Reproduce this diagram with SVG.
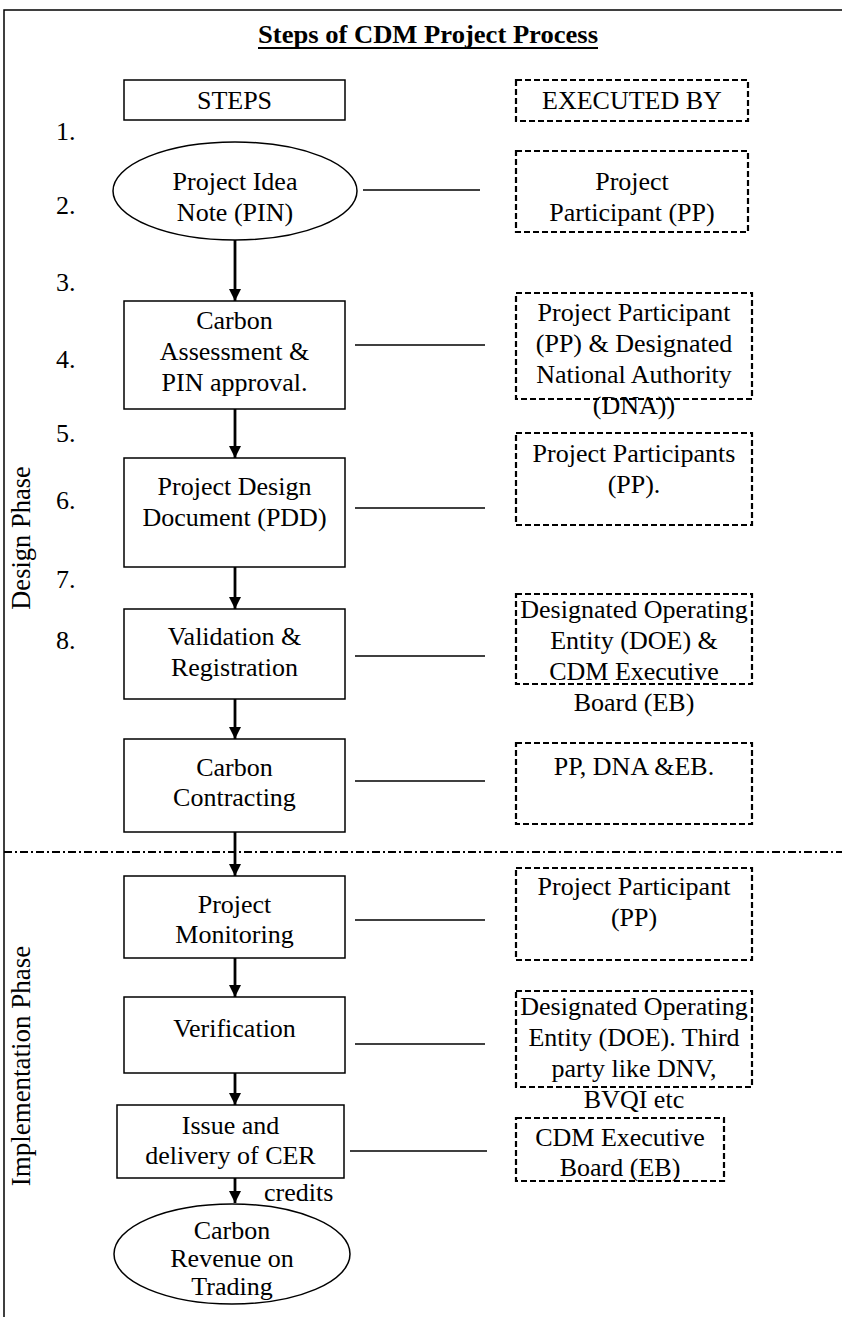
<svg xmlns="http://www.w3.org/2000/svg" width="842" height="1317" viewBox="0 0 842 1317">
<defs>
<style>
text{font-family:'Liberation Serif',serif;font-size:26px;fill:#000}
.t{text-anchor:middle}
.box{fill:#fff;stroke:#000;stroke-width:1.5}
.dbox{fill:none;stroke:#000;stroke-width:2.2;stroke-dasharray:6,3}
.ln{stroke:#000;stroke-width:1.5;fill:none}
.ar{stroke:#000;stroke-width:2.8;fill:none;marker-end:url(#ah)}
</style>
<marker id="ah" viewBox="0 0 12 12" refX="12" refY="6" markerWidth="12" markerHeight="12" markerUnits="userSpaceOnUse" orient="auto">
<path d="M0,0 L12,6 L0,12 z" fill="#000"/>
</marker>
</defs>
<rect width="842" height="1317" fill="#fff"/>
<g id="frame">
<path class="ln" d="M4,1317 V10 H842"/>
<path d="M4,852 H842" stroke="#000" stroke-width="2" stroke-dasharray="8,3,2,3" fill="none"/>
</g>
<g id="title">
<text x="428" y="43" class="t" font-weight="bold" textLength="340" lengthAdjust="spacingAndGlyphs">Steps of CDM Project Process</text>
<line x1="258" y1="48" x2="598" y2="48" stroke="#000" stroke-width="2"/>
</g>
<g id="phases">
<text class="t" style="font-size:26.5px" transform="translate(30,538) rotate(-90)">Design Phase</text>
<text class="t" style="font-size:27px" transform="translate(30,1066) rotate(-90)">Implementation Phase</text>
</g>
<g id="numbers">
<text x="56" y="140">1.</text>
<text x="56" y="214">2.</text>
<text x="56" y="291">3.</text>
<text x="56" y="368">4.</text>
<text x="56" y="442">5.</text>
<text x="56" y="509">6.</text>
<text x="56" y="588">7.</text>
<text x="56" y="649">8.</text>
</g>
<g id="connectors">
<line class="ln" x1="363" y1="190" x2="480" y2="190"/>
<line class="ln" x1="355" y1="345" x2="485" y2="345"/>
<line class="ln" x1="355" y1="508" x2="485" y2="508"/>
<line class="ln" x1="355" y1="656" x2="485" y2="656"/>
<line class="ln" x1="355" y1="781" x2="485" y2="781"/>
<line class="ln" x1="355" y1="920" x2="485" y2="920"/>
<line class="ln" x1="355" y1="1044" x2="485" y2="1044"/>
<line class="ln" x1="350" y1="1151" x2="487" y2="1151"/>
<line class="ar" x1="235" y1="240" x2="235" y2="301"/>
<line class="ar" x1="235" y1="409" x2="235" y2="458"/>
<line class="ar" x1="235" y1="567" x2="235" y2="609"/>
<line class="ar" x1="235" y1="699" x2="235" y2="739"/>
<line class="ar" x1="235" y1="832" x2="235" y2="876"/>
<line class="ar" x1="235" y1="958" x2="235" y2="997"/>
<line class="ar" x1="235" y1="1073" x2="235" y2="1105"/>
<line class="ar" x1="235" y1="1178" x2="235" y2="1203"/>
<text x="264" y="1201">credits</text>
</g>
<g id="steps-header">
<rect class="box" x="124" y="80" width="221" height="40"/>
<text class="t" x="234.5" y="109">STEPS</text>
</g>
<g id="executed-header">
<rect class="dbox" x="516" y="80" width="232" height="41"/>
<text class="t" x="632" y="109">EXECUTED BY</text>
</g>
<g id="step-pin">
<ellipse class="box" cx="235" cy="191" rx="122" ry="49"/>
<text class="t" x="235" y="190">Project Idea</text>
<text class="t" x="235" y="221">Note (PIN)</text>
</g>
<g id="by-pin">
<rect class="dbox" x="516" y="151" width="232" height="81"/>
<text class="t" x="632" y="190">Project</text>
<text class="t" x="632" y="221">Participant (PP)</text>
</g>
<g id="step-assessment">
<rect class="box" x="124" y="301" width="221" height="108"/>
<text class="t" x="234.5" y="329">Carbon</text>
<text class="t" x="234.5" y="360">Assessment &amp;</text>
<text class="t" x="234.5" y="391">PIN approval.</text>
</g>
<g id="by-assessment">
<rect class="dbox" x="516" y="293" width="236" height="106"/>
<text class="t" x="634" y="321">Project Participant</text>
<text class="t" x="634" y="352">(PP) &amp; Designated</text>
<text class="t" x="634" y="383">National Authority</text>
<text class="t" x="634" y="414">(DNA))</text>
</g>
<g id="step-pdd">
<rect class="box" x="124" y="458" width="221" height="109"/>
<text class="t" x="234.5" y="495">Project Design</text>
<text class="t" x="234.5" y="526">Document (PDD)</text>
</g>
<g id="by-pdd">
<rect class="dbox" x="516" y="433" width="236" height="92"/>
<text class="t" x="634" y="462">Project Participants</text>
<text class="t" x="634" y="493">(PP).</text>
</g>
<g id="step-validation">
<rect class="box" x="124" y="609" width="221" height="90"/>
<text class="t" x="234.5" y="645">Validation &amp;</text>
<text class="t" x="234.5" y="676">Registration</text>
</g>
<g id="by-validation">
<rect class="dbox" x="516" y="594" width="236" height="90"/>
<text class="t" x="634" y="618">Designated Operating</text>
<text class="t" x="634" y="649">Entity (DOE) &amp;</text>
<text class="t" x="634" y="680">CDM Executive</text>
<text class="t" x="634" y="711">Board (EB)</text>
</g>
<g id="step-contracting">
<rect class="box" x="124" y="739" width="221" height="93"/>
<text class="t" x="234.5" y="776">Carbon</text>
<text class="t" x="234.5" y="806">Contracting</text>
</g>
<g id="by-contracting">
<rect class="dbox" x="516" y="743" width="236" height="81"/>
<text class="t" x="634" y="775">PP, DNA &amp;EB.</text>
</g>
<g id="step-monitoring">
<rect class="box" x="124" y="876" width="221" height="82"/>
<text class="t" x="234.5" y="913">Project</text>
<text class="t" x="234.5" y="943">Monitoring</text>
</g>
<g id="by-monitoring">
<rect class="dbox" x="516" y="868" width="236" height="92"/>
<text class="t" x="634" y="895">Project Participant</text>
<text class="t" x="634" y="926">(PP)</text>
</g>
<g id="step-verification">
<rect class="box" x="124" y="997" width="221" height="76"/>
<text class="t" x="234.5" y="1037">Verification</text>
</g>
<g id="by-verification">
<rect class="dbox" x="516" y="991" width="236" height="96"/>
<text class="t" x="634" y="1015">Designated Operating</text>
<text class="t" x="634" y="1046">Entity (DOE). Third</text>
<text class="t" x="634" y="1077">party like DNV,</text>
<text class="t" x="634" y="1108">BVQI etc</text>
</g>
<g id="step-issue">
<rect class="box" x="117" y="1105" width="227" height="73"/>
<text class="t" x="230.5" y="1134">Issue and</text>
<text class="t" x="230.5" y="1164">delivery of CER</text>
</g>
<g id="by-issue">
<rect class="dbox" x="516" y="1118" width="208" height="63"/>
<text class="t" x="620" y="1146">CDM Executive</text>
<text class="t" x="620" y="1176">Board (EB)</text>
</g>
<g id="step-revenue">
<ellipse class="box" cx="232" cy="1254" rx="118" ry="50"/>
<text class="t" x="232" y="1239">Carbon</text>
<text class="t" x="232" y="1267">Revenue on</text>
<text class="t" x="232" y="1295">Trading</text>
</g>
</svg>
